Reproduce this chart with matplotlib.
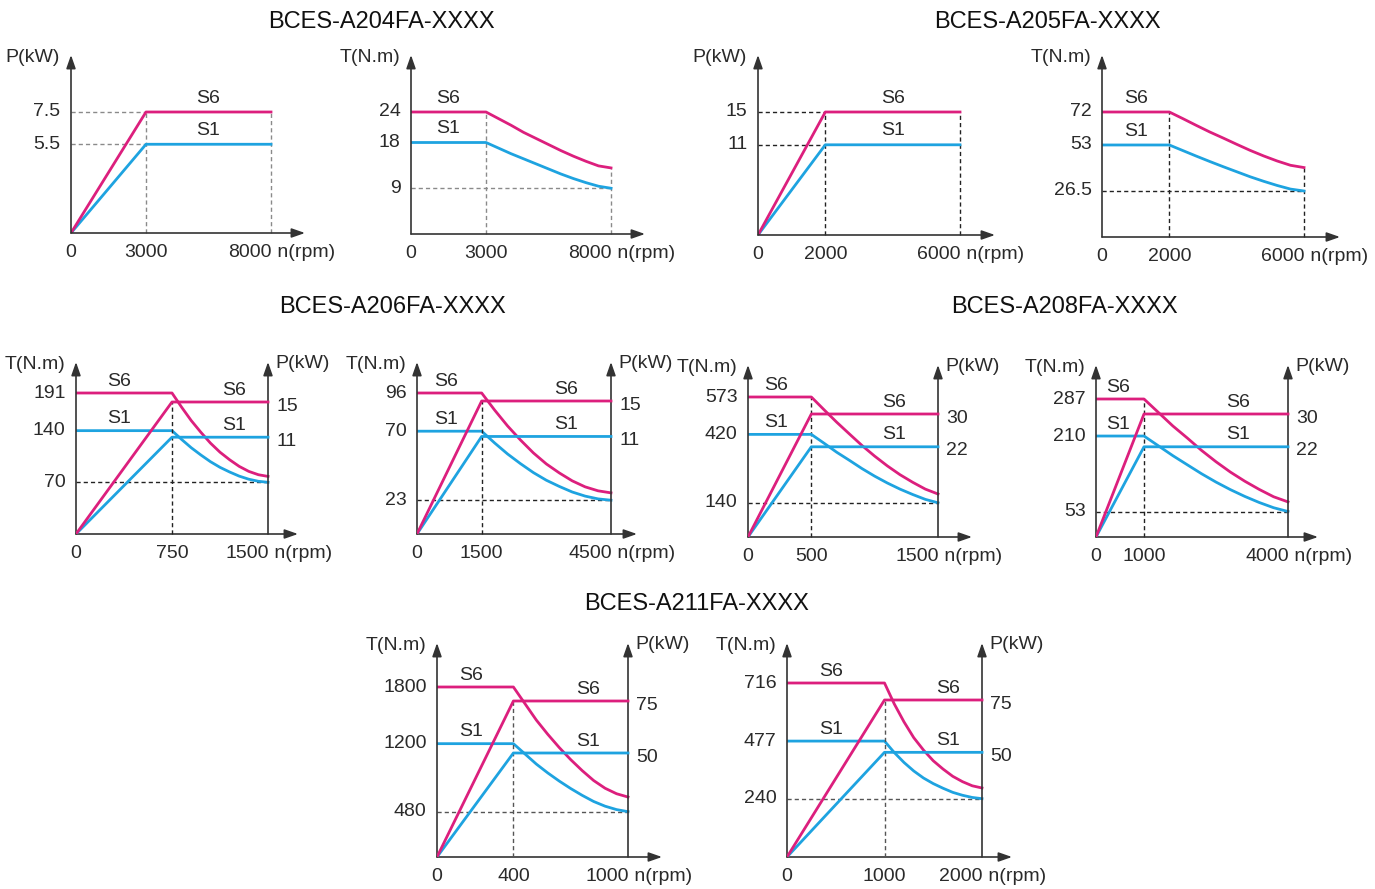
import matplotlib
matplotlib.use('Agg')
import matplotlib.pyplot as plt

plt.rcParams['font.family'] = ['Liberation Sans', 'DejaVu Sans']

# ---- data ----
# BCES-A204FA
a204_rpm = [0, 3000, 8000]
a204_p_s6 = [0, 7.5, 7.5]
a204_p_s1 = [0, 5.5, 5.5]
a204_p_ticks = [5.5, 7.5]
a204_t_rpm = [0, 3000, 3500, 4000, 4500, 5000, 5500, 6000, 6500, 7000, 7500, 8000]
a204_t_s6 = [24, 24, 22.7, 21.4, 20.0, 18.8, 17.6, 16.4, 15.3, 14.3, 13.4, 13]
a204_t_s1 = [18, 18, 16.9, 15.8, 14.8, 13.8, 12.8, 11.8, 10.9, 10.1, 9.4, 9]
a204_t_ticks = [9, 18, 24]

# BCES-A205FA
a205_rpm = [0, 2000, 6000]
a205_p_s6 = [0, 15, 15]
a205_p_s1 = [0, 11, 11]
a205_p_ticks = [11, 15]
a205_t_rpm = [0, 2000, 2400, 2800, 3200, 3600, 4000, 4400, 4800, 5200, 5600, 6000]
a205_t_s6 = [72, 72, 68.2, 64.3, 60.5, 57.0, 53.4, 49.9, 46.7, 43.8, 41.3, 40]
a205_t_s1 = [53, 53, 49.8, 46.6, 43.5, 40.5, 37.6, 34.7, 32.1, 29.7, 27.6, 26.5]
a205_t_ticks = [26.5, 53, 72]

# BCES-A206FA (left)
a206a_rpm = [0, 750, 1500]
a206a_p_s6 = [0, 15, 15]
a206a_p_s1 = [0, 11, 11]
a206a_p_ticks = [11, 15]
a206a_t_rpm = [0, 750, 825, 900, 975, 1050, 1125, 1200, 1275, 1350, 1425, 1500]
a206a_t_s6 = [191, 191, 171.8, 153.7, 137.9, 123.2, 110.8, 100.6, 91.6, 84.8, 80.3, 78]
a206a_t_s1 = [140, 140, 128.1, 116.9, 107.1, 98, 90.3, 84, 78.4, 74.2, 71.4, 70]
a206a_t_ticks = [70, 140, 191]

# BCES-A206FA (right)
a206b_rpm = [0, 1500, 4500]
a206b_p_s6 = [0, 15, 15]
a206b_p_s1 = [0, 11, 11]
a206b_p_ticks = [11, 15]
a206b_t_rpm = [0, 1500, 1800, 2100, 2400, 2700, 3000, 3300, 3600, 3900, 4200, 4500]
a206b_t_s6 = [96, 96, 84.4, 73.6, 64.0, 55.2, 47.7, 41.6, 36.2, 32.1, 29.4, 28]
a206b_t_s1 = [70, 70, 62, 54.5, 47.9, 41.8, 36.6, 32.4, 28.6, 25.8, 23.9, 23]
a206b_t_ticks = [23, 70, 96]

# BCES-A208FA (left)
a208a_rpm = [0, 500, 1500]
a208a_p_s6 = [0, 30, 30]
a208a_p_s1 = [0, 22, 22]
a208a_p_ticks = [22, 30]
a208a_t_rpm = [0, 500, 600, 700, 800, 900, 1000, 1100, 1200, 1300, 1400, 1500]
a208a_t_s6 = [573, 573, 521, 470, 422, 374.5, 331, 291, 255, 224, 196, 176]
a208a_t_s1 = [420, 420, 384, 347, 314, 280, 249, 221, 196, 174, 154, 140]
a208a_t_ticks = [140, 420, 573]

# BCES-A208FA (right)
a208b_rpm = [0, 1000, 4000]
a208b_p_s6 = [0, 30, 30]
a208b_p_s1 = [0, 22, 22]
a208b_p_ticks = [22, 30]
a208b_t_rpm = [0, 1000, 1300, 1600, 1900, 2200, 2500, 2800, 3100, 3400, 3700, 4000]
a208b_t_s6 = [287, 287, 259, 231, 206, 180, 156.5, 135, 116, 99, 83.7, 73]
a208b_t_s1 = [210, 210, 189.6, 169.2, 150.3, 131.5, 114.2, 98.5, 84.4, 71.8, 60.9, 53]
a208b_t_ticks = [53, 210, 287]

# BCES-A211FA (left)
a211a_rpm = [0, 400, 1000]
a211a_p_s6 = [0, 75, 75]
a211a_p_s1 = [0, 50, 50]
a211a_p_ticks = [50, 75]
a211a_t_rpm = [0, 400, 460, 520, 580, 640, 700, 760, 820, 880, 940, 1000]
a211a_t_s6 = [1800, 1800, 1625, 1450, 1299, 1159, 1031, 915, 810, 728, 670, 635]
a211a_t_s1 = [1200, 1200, 1092, 984, 890, 804, 725, 653, 588, 538, 502, 480]
a211a_t_ticks = [480, 1200, 1800]

# BCES-A211FA (right)
a211b_rpm = [0, 1000, 2000]
a211b_p_s6 = [0, 75, 75]
a211b_p_s1 = [0, 50, 50]
a211b_p_ticks = [50, 75]
a211b_t_rpm = [0, 1000, 1100, 1200, 1300, 1400, 1500, 1600, 1700, 1800, 1900, 2000]
a211b_t_s6 = [716, 716, 630, 556, 491, 440, 396, 362, 332, 310, 293, 284]
a211b_t_s1 = [477, 477, 430, 389, 354, 325, 302, 283, 266, 254, 245, 240]
a211b_t_ticks = [240, 477, 716]

titles = ['BCES-A204FA-XXXX', 'BCES-A205FA-XXXX', 'BCES-A206FA-XXXX',
          'BCES-A208FA-XXXX', 'BCES-A211FA-XXXX']

# ---- style ----
W, H = 1375, 889
PINK = '#dc1f7d'
BLUE = '#1ea3e0'
AXIS_C = '#333333'
TXT = '#2a2a2a'
LW = 2.0
FS = 14
ARROW = '-|>,head_length=0.8,head_width=0.28'

fig = plt.figure(figsize=(W / 100, H / 100), dpi=100)


def fmt(v):
    return '{:g}'.format(v)


def frame(x0, y0, x1, y1, rpm_end, xe):
    ax = fig.add_axes([x0 / W, 1 - y0 / H, (x1 - x0) / W, (y0 - y1) / H])
    ax.set_xlim(0, rpm_end * (x1 - x0) / (xe - x0))
    ax.axis('off')
    return ax


def set_top(ax, v_top, y0, y1, yv):
    ax.set_ylim(0, v_top * (y0 - y1) / (y0 - yv))


def axis_arrow(ax, start, end, coords):
    ax.annotate('', xy=end, xytext=start, xycoords=coords, textcoords=coords,
                arrowprops=dict(arrowstyle=ARROW, color=AXIS_C, lw=1.2,
                                shrinkA=0, shrinkB=0, mutation_scale=10),
                annotation_clip=False)


def dash(ax, xs, ys, c):
    ax.plot(xs, ys, color=c, lw=1.0, dashes=(3, 2.2), clip_on=False)


def txt(ax, s, xy, off, ha='center', va='center', coords='data'):
    ax.annotate(s, xy=xy, xycoords=coords, xytext=off, textcoords='offset points',
                ha=ha, va=va, fontsize=FS, color=TXT, annotation_clip=False)


def x_axis(ax, rpm):
    brk, end = rpm[1], rpm[-1]
    axis_arrow(ax, (0, 0), (1, 0), 'axes fraction')
    axis_arrow(ax, (0, 0), (0, 1), 'axes fraction')
    for v in (0, brk):
        txt(ax, fmt(v), (v, 0), (0, -13.7))
    txt(ax, fmt(end), (end, 0), (0.5, -13.7), ha='right')
    txt(ax, ' n(rpm)', (end, 0), (0.5, -13.7), ha='left')


def left_ticks(ax, ticks, label):
    for v in ticks:
        txt(ax, fmt(v), (0, v), (-7.5, 0), ha='right')
    txt(ax, label, (0, 1), (-8, -2), ha='right', coords='axes fraction')


def power_panel(box, xe, yv, rpm, p6, p1, ticks, dash_c):
    x0, y0, x1, y1 = box
    ax = frame(x0, y0, x1, y1, rpm[-1], xe)
    set_top(ax, max(p6), y0, y1, yv)
    brk, end = rpm[1], rpm[-1]
    for v in (p6[-1], p1[-1]):
        dash(ax, [0, brk], [v, v], dash_c)
    dash(ax, [brk, brk], [0, p6[1]], dash_c)
    dash(ax, [end, end], [0, p6[-1]], dash_c)
    ax.plot(rpm, p1, color=BLUE, lw=LW)
    ax.plot(rpm, p6, color=PINK, lw=LW)
    mid = (brk + end) / 2
    txt(ax, 'S6', (mid, p6[-1]), (0, 10))
    txt(ax, 'S1', (mid, p1[-1]), (0, 10))
    x_axis(ax, rpm)
    left_ticks(ax, ticks, 'P(kW)')


def torque_panel(box, xe, yv, rpm, t6, t1, ticks, dash_c):
    x0, y0, x1, y1 = box
    ax = frame(x0, y0, x1, y1, rpm[-1], xe)
    set_top(ax, max(t6), y0, y1, yv)
    brk, end = rpm[1], rpm[-1]
    dash(ax, [brk, brk], [0, t6[1]], dash_c)
    dash(ax, [0, end], [t1[-1], t1[-1]], dash_c)
    dash(ax, [end, end], [0, t6[-1]], dash_c)
    ax.plot(rpm, t1, color=BLUE, lw=LW)
    ax.plot(rpm, t6, color=PINK, lw=LW)
    mid = brk / 2
    txt(ax, 'S6', (mid, t6[0]), (0, 10))
    txt(ax, 'S1', (mid, t1[0]), (0, 10))
    x_axis(ax, [rpm[0], brk, end])
    left_ticks(ax, ticks, 'T(N.m)')


def dual_panel(box, xe, yv_t, yv_p, rpm, p6, p1, t_rpm, t6, t1,
               t_ticks, p_ticks, dash_c, dash_to_power):
    x0, y0, x1, y1 = box
    ax = frame(x0, y0, x1, y1, rpm[-1], xe)
    set_top(ax, max(t6), y0, y1, yv_t)
    ax2 = ax.twinx()
    ax2.axis('off')
    set_top(ax2, max(p6), y0, y1, yv_p)
    brk, end = rpm[1], rpm[-1]

    dash(ax, [0, end], [t_ticks[0], t_ticks[0]], dash_c)
    if dash_to_power:
        dash(ax2, [brk, brk], [0, p6[1]], dash_c)
    else:
        dash(ax, [brk, brk], [0, t6[1]], dash_c)

    # right (power) axis
    axis_arrow(ax, (end, 0), (end, 1), ('data', 'axes fraction'))

    ax.plot(t_rpm, t1, color=BLUE, lw=LW)
    ax2.plot(rpm, p1, color=BLUE, lw=LW)
    ax.plot(t_rpm, t6, color=PINK, lw=LW)
    ax2.plot(rpm, p6, color=PINK, lw=LW)

    xl = brk * 0.45
    xr = brk + (end - brk) * 0.65
    txt(ax, 'S6', (xl, t6[0]), (0, 8.5))
    txt(ax, 'S1', (xl, t1[0]), (0, 8.5))
    txt(ax2, 'S6', (xr, p6[-1]), (0, 8.5))
    txt(ax2, 'S1', (xr, p1[-1]), (0, 8.5))

    x_axis(ax, rpm)
    left_ticks(ax, t_ticks, 'T(N.m)')
    for v in p_ticks:
        txt(ax2, fmt(v), (end, v), (6, -3), ha='left')
    txt(ax, 'P(kW)', (end, 1), (5, -1), ha='left', coords=('data', 'axes fraction'))


# ---- top row ----
power_panel((71, 233, 305, 55), 271, 112, a204_rpm, a204_p_s6, a204_p_s1,
            a204_p_ticks, '#8a8a8a')
torque_panel((411, 234, 645, 55), 611, 112, a204_t_rpm, a204_t_s6, a204_t_s1,
             a204_t_ticks, '#8a8a8a')
power_panel((758, 235, 995, 55), 960, 112, a205_rpm, a205_p_s6, a205_p_s1,
            a205_p_ticks, '#222222')
torque_panel((1102, 237, 1340, 55), 1304, 112, a205_t_rpm, a205_t_s6, a205_t_s1,
             a205_t_ticks, '#222222')

# ---- middle row ----
dual_panel((76, 534, 298, 362), 268, 393, 402, a206a_rpm, a206a_p_s6, a206a_p_s1,
           a206a_t_rpm, a206a_t_s6, a206a_t_s1, a206a_t_ticks, a206a_p_ticks,
           '#222222', True)
dual_panel((417, 534, 637, 362), 611, 393, 401, a206b_rpm, a206b_p_s6, a206b_p_s1,
           a206b_t_rpm, a206b_t_s6, a206b_t_s1, a206b_t_ticks, a206b_p_ticks,
           '#222222', True)
dual_panel((748, 537, 972, 365), 938, 397, 414, a208a_rpm, a208a_p_s6, a208a_p_s1,
           a208a_t_rpm, a208a_t_s6, a208a_t_s1, a208a_t_ticks, a208a_p_ticks,
           '#222222', False)
dual_panel((1096, 537, 1318, 365), 1288, 399, 414, a208b_rpm, a208b_p_s6, a208b_p_s1,
           a208b_t_rpm, a208b_t_s6, a208b_t_s1, a208b_t_ticks, a208b_p_ticks,
           '#222222', False)

# ---- bottom row ----
dual_panel((437, 857, 662, 643), 628, 687, 701, a211a_rpm, a211a_p_s6, a211a_p_s1,
           a211a_t_rpm, a211a_t_s6, a211a_t_s1, a211a_t_ticks, a211a_p_ticks,
           '#555555', True)
dual_panel((787, 857, 1012, 643), 982, 683, 700, a211b_rpm, a211b_p_s6, a211b_p_s1,
           a211b_t_rpm, a211b_t_s6, a211b_t_s1, a211b_t_ticks, a211b_p_ticks,
           '#555555', True)

# ---- titles ----
title_xy = [(381, 22), (1047, 22), (392, 307), (1064, 307), (697, 604)]
for t, (tx, ty) in zip(titles, title_xy):
    fig.text(tx / W, 1 - ty / H, t, ha='center', va='center', fontsize=17, color='#111111')

fig.savefig('out.png', dpi=100)
